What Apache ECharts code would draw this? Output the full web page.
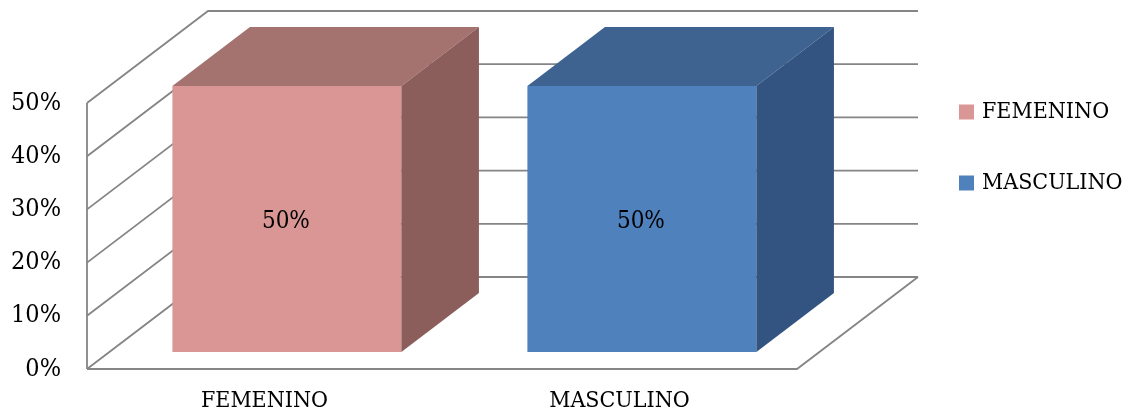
<!DOCTYPE html>
<html>
<head>
<meta charset="utf-8">
<script src="https://cdn.jsdelivr.net/npm/echarts@6/dist/echarts.min.js"></script>
<style>
  html, body { margin: 0; padding: 0; background: #ffffff; }
  #chart { width: 1132px; height: 415px; }
</style>
</head>
<body>
<div id="chart"></div>
<script>
// Categories and their share (percent)
const categories = ['FEMENINO', 'MASCULINO'];
const shares = [50, 50];
// Value-axis ticks (percent)
const yTicks = [0, 10, 20, 30, 40, 50];

// Perspective: pixel offset from the front plane to the back wall
const DEPTH = [121, -92];
// Bars sit between these depth fractions, and take this share of a category band
const BAR_NEAR = 0.185;
const BAR_FAR = 0.826;
const BAR_RATIO = 0.645;

const FONT = '"DejaVu Serif Condensed", "Liberation Serif", serif';
const LINE = '#858585';

const faces = [
  { front: '#D99694', top: '#A4726F', side: '#8B5E5C' },
  { front: '#4F81BD', top: '#3E6390', side: '#335380' }
];

function shift(p, d) {
  return [p[0] + DEPTH[0] * d, p[1] + DEPTH[1] * d];
}

// Walls and floor of the 3D box, built from the axis scale
function renderWalls(params, api) {
  const cs = params.coordSys;
  const x0 = cs.x, x1 = cs.x + cs.width;
  const yBase = api.coord([0, yTicks[0]])[1];
  const yTop = api.coord([0, yTicks[yTicks.length - 1]])[1];
  const style = { stroke: LINE, lineWidth: 1.8, fill: null };
  const children = [];
  yTicks.forEach(function (t) {
    const y = api.coord([0, t])[1];
    const a = [x0, y], b = shift([x0, y], 1), c = shift([x1, y], 1);
    children.push({ type: 'polyline', shape: { points: [a, b, c] }, style: style });
  });
  // floor front and right edges
  children.push({
    type: 'polyline',
    shape: { points: [[x0, yBase], [x1, yBase], shift([x1, yBase], 1)] },
    style: style
  });
  // left wall front edge
  children.push({
    type: 'polyline',
    shape: { points: [[x0, yBase], [x0, yTop]] },
    style: style
  });
  return { type: 'group', children: children };
}

function makeBarRenderer(col) {
  return function (params, api) {
    const cat = api.value(0), val = api.value(1);
    const band = api.size([1, 0])[0];
    const base = api.coord([cat, 0]);
    const top = api.coord([cat, val]);
    const half = band * BAR_RATIO / 2;
    const xl = base[0] - half, xr = base[0] + half;
    const fTL = shift([xl, top[1]], BAR_NEAR), fTR = shift([xr, top[1]], BAR_NEAR);
    const fBR = shift([xr, base[1]], BAR_NEAR), fBL = shift([xl, base[1]], BAR_NEAR);
    const bTL = shift([xl, top[1]], BAR_FAR), bTR = shift([xr, top[1]], BAR_FAR);
    const bBR = shift([xr, base[1]], BAR_FAR);
    return {
      type: 'group',
      children: [
        { type: 'polygon', shape: { points: [fTL, fTR, fBR, fBL] }, style: { fill: col.front } },
        { type: 'polygon', shape: { points: [fTL, fTR, bTR, bTL] }, style: { fill: col.top } },
        { type: 'polygon', shape: { points: [fTR, bTR, bBR, fBR] }, style: { fill: col.side } },
        {
          type: 'text',
          style: {
            text: val + '%',
            x: (fTL[0] + fTR[0]) / 2 - 1,
            y: (fTL[1] + fBL[1]) / 2 + 3,
            align: 'center',
            verticalAlign: 'middle',
            fill: '#000000',
            font: '24px ' + FONT
          }
        }
      ]
    };
  };
}

const series = [{
  type: 'custom',
  name: 'walls',
  silent: true,
  z: 1,
  data: [[0, 0]],
  renderItem: renderWalls
}];
categories.forEach(function (name, i) {
  series.push({
    type: 'custom',
    name: name,
    z: 2,
    itemStyle: { color: faces[i].front },
    data: [[i, shares[i]]],
    renderItem: makeBarRenderer(faces[i])
  });
});

const chart = echarts.init(document.getElementById('chart'), null, { renderer: 'canvas' });
chart.setOption({
  animation: false,
  backgroundColor: '#ffffff',
  grid: { left: 87, right: 335, top: 103, bottom: 46 },
  xAxis: {
    type: 'category',
    data: categories,
    axisLine: { show: false },
    axisTick: { show: false },
    splitLine: { show: false },
    axisLabel: { margin: 21, color: '#000000', fontFamily: FONT, fontSize: 23 }
  },
  yAxis: {
    type: 'value',
    min: 0,
    max: 50,
    interval: 10,
    axisLine: { show: false },
    axisTick: { show: false },
    splitLine: { show: false },
    axisLabel: { margin: 26, color: '#000000', fontFamily: FONT, fontSize: 25, formatter: '{value}%' }
  },
  legend: {
    data: categories,
    orient: 'vertical',
    left: 959,
    top: 100,
    padding: 0,
    itemWidth: 15,
    itemHeight: 15,
    itemGap: 47,
    icon: 'rect',
    textStyle: { color: '#000000', fontFamily: FONT, fontSize: 23, lineHeight: 24, padding: [0, 0, 0, 3] }
  },
  series: series
});
</script>
</body>
</html>
